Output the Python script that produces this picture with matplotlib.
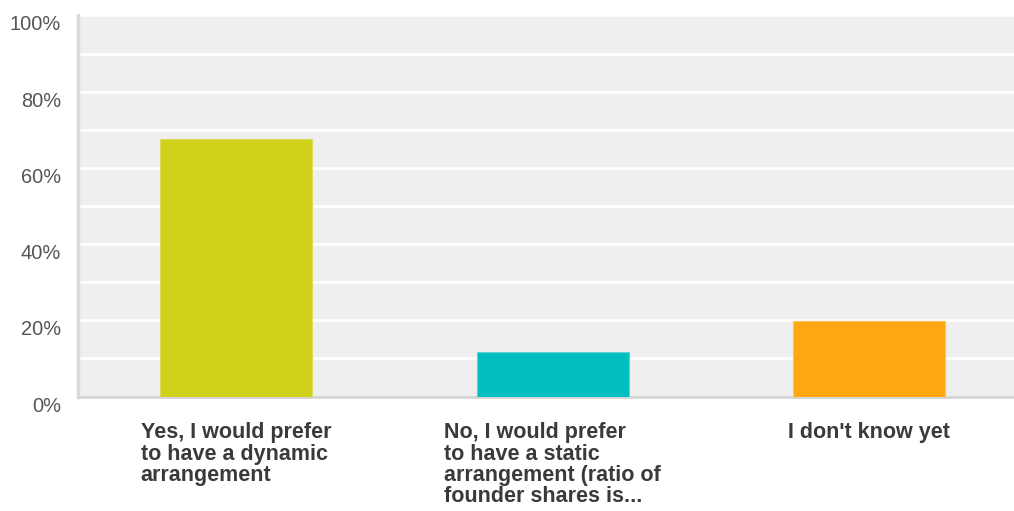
import matplotlib
matplotlib.use("Agg")
import matplotlib.pyplot as plt
from matplotlib.ticker import FuncFormatter, MultipleLocator
import matplotlib.transforms as mtransforms

categories = [
    "Yes, I would prefer\nto have a dynamic\narrangement",
    "No, I would prefer\nto have a static\narrangement (ratio of\nfounder shares is...",
    "I don't know yet",
]
percentages = [67.6, 11.6, 19.7]
bar_colors = ["#cfd11a", "#02bfbf", "#fea711"]
edge_colors = ["#dcdd5a", "#5fd3d3", "#fec060"]
y_ticks = [0, 20, 40, 60, 80, 100]

plt.rcParams["font.family"] = ["Liberation Sans", "DejaVu Sans"]

W, H = 1014, 511
fig = plt.figure(figsize=(W / 100, H / 100), dpi=100)
left, right, top, bottom = 77.5, 1027.5, 15.5, 396.5
ax = fig.add_axes([left / W, 1 - bottom / H, (right - left) / W, (bottom - top) / H])

ax.set_facecolor("#efefef")
ax.set_xlim(-0.5, 2.5)
ax.set_ylim(0, 100)

x = list(range(len(categories)))
ax.bar(x, percentages, width=0.48, color=bar_colors, edgecolor=edge_colors,
       linewidth=0.8, zorder=3)

ax.yaxis.set_major_locator(MultipleLocator(20))
ax.yaxis.set_minor_locator(MultipleLocator(10))
ax.set_yticks(y_ticks)
ax.yaxis.set_major_formatter(FuncFormatter(lambda v, _: f"{v:.0f}%"))
ax.grid(axis="y", which="both", color="white", linewidth=2, zorder=1)
ax.set_axisbelow(True)

ax.tick_params(axis="y", which="both", length=0, pad=12, labelsize=14.4,
               labelcolor="#555555")
for lbl in ax.get_yticklabels():
    lbl.set_verticalalignment("top")
ax.tick_params(axis="x", length=0)
ax.set_xticks([])

for side in ("top", "right"):
    ax.spines[side].set_visible(False)
ax.spines["left"].set_color("#d9d9d9")
ax.spines["left"].set_linewidth(2.5)
ax.spines["bottom"].set_color("#d4d4d4")
ax.spines["bottom"].set_linewidth(2)

trans = mtransforms.blended_transform_factory(ax.transData, ax.transAxes)
for xi, label in zip(x, categories):
    ax.text(xi, -0.068, label, transform=trans, ha="center", va="top",
            multialignment="left", fontsize=15.5, fontweight="bold",
            color="#3a3a3a", linespacing=1.02)

fig.savefig("out.png", dpi=100, facecolor="white")
